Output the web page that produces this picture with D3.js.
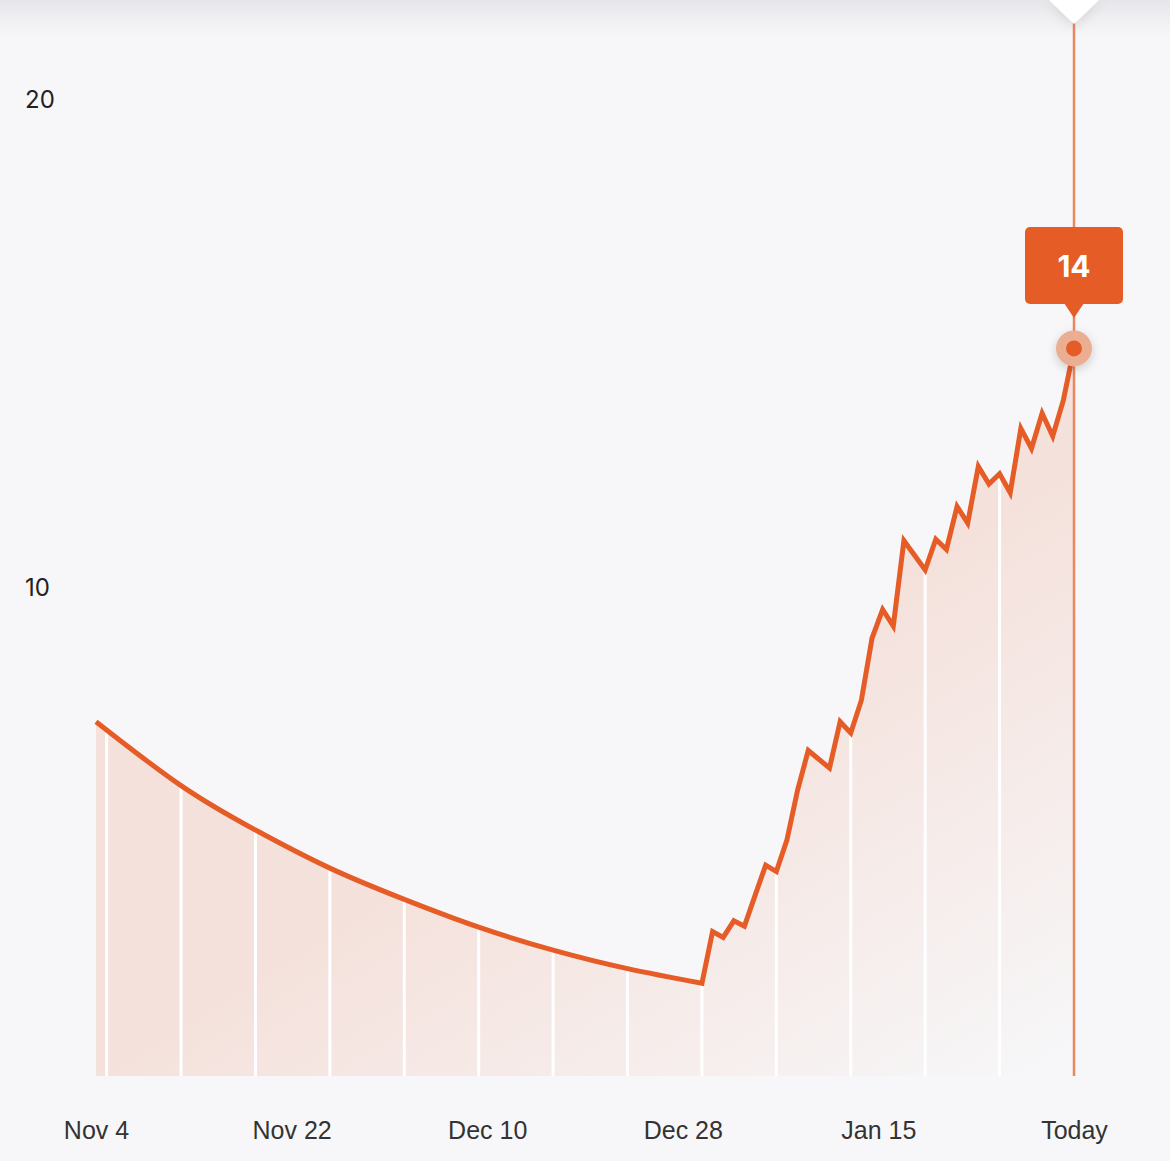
<!DOCTYPE html>
<html>
<head>
<meta charset="utf-8">
<script src="https://cdn.jsdelivr.net/npm/d3@7"></script>
<style>
  html, body { margin: 0; padding: 0; background: #f7f7f9; }
  svg { display: block; }
</style>
</head>
<body>
<svg id="chart" width="1170" height="1161"></svg>
<script>
// ---- data (day index counted from Nov 4) ----
const smoothDays   = [0, 8, 15, 22, 29, 36, 43, 50, 57];
const smoothValues = [7.26, 5.95, 5.04, 4.26, 3.62, 3.05, 2.58, 2.20, 1.90];

const dailyDays   = [57,58,59,60,61,62,63,64,65,66,67,68,69,70,71,72,73,74,75,76,77,78,79,80,81,82,83,84,85,86,87,88,89,90,91,92];
const dailyValues = [1.90,2.96,2.84,3.18,3.07,3.70,4.32,4.19,4.84,5.86,6.67,6.49,6.31,7.26,7.03,7.70,8.97,9.56,9.22,10.97,10.67,10.37,11.00,10.79,11.67,11.33,12.49,12.13,12.34,11.95,13.27,12.86,13.58,13.11,13.85,14.91];

const gridDays   = [1, 8, 15, 22, 29, 36, 43, 50, 57, 64, 71, 78, 85];
const xTickLabels = ["Nov 4", "Nov 22", "Dec 10", "Dec 28", "Jan 15", "Today"];
const yTickValues = [10, 20];
const dayDomain = [0, 92];

// ---- layout ----
const svg = d3.select("#chart");
const W = 1170, H = 1161;
const orange = "#E65C27";

const x = d3.scaleLinear().domain(dayDomain).range([96, 1074]);
const y = d3.scaleLinear().domain([0, 20]).range([1076, 100]);

const defs = svg.append("defs");

const hdr = defs.append("linearGradient").attr("id", "hdr").attr("x1", 0).attr("y1", 0).attr("x2", 0).attr("y2", 1);
hdr.append("stop").attr("offset", 0).attr("stop-color", "#e6e6ea");
hdr.append("stop").attr("offset", 0.4).attr("stop-color", "#eeeef1");
hdr.append("stop").attr("offset", 1).attr("stop-color", "#f7f7f9");

const ag = defs.append("linearGradient").attr("id", "areaGrad")
  .attr("gradientUnits", "userSpaceOnUse")
  .attr("x1", 1060).attr("y1", 480).attr("x2", 1327).attr("y2", 910);
ag.append("stop").attr("offset", 0).attr("stop-color", orange).attr("stop-opacity", 0.14);
ag.append("stop").attr("offset", 1).attr("stop-color", orange).attr("stop-opacity", 0.0);

const sh = defs.append("filter").attr("id", "shadow").attr("x", "-100%").attr("y", "-100%").attr("width", "300%").attr("height", "300%");
sh.append("feDropShadow").attr("dx", 0).attr("dy", 3).attr("stdDeviation", 5).attr("flood-color", "#000").attr("flood-opacity", 0.18);

const sh2 = defs.append("filter").attr("id", "shadow2").attr("x", "-100%").attr("y", "-100%").attr("width", "300%").attr("height", "300%");
sh2.append("feDropShadow").attr("dx", 0).attr("dy", 2).attr("stdDeviation", 6).attr("flood-color", "#000").attr("flood-opacity", 0.12);

// background
svg.append("rect").attr("width", W).attr("height", H).attr("fill", "#f7f7f9");
svg.append("rect").attr("width", W).attr("height", 38).attr("fill", "url(#hdr)");

// ---- line path (smooth part + daily linear part) ----
const smoothPts = smoothDays.map((d, i) => [d, smoothValues[i]]);
const dailyPts  = dailyDays.map((d, i) => [d, dailyValues[i]]);

const smoothLine = d3.line().x(d => x(d[0])).y(d => y(d[1])).curve(d3.curveNatural);
const linearLine = d3.line().x(d => x(d[0])).y(d => y(d[1])).curve(d3.curveLinear);

const linePath = smoothLine(smoothPts) + linearLine(dailyPts).replace(/^M/, "L");
const lastDay = dailyDays[dailyDays.length - 1];
const lastVal = dailyValues[dailyValues.length - 1];
const areaPath = linePath + `L${x(lastDay)},${y(0)}L${x(smoothDays[0])},${y(0)}Z`;

defs.append("clipPath").attr("id", "areaClip").append("path").attr("d", areaPath);

svg.append("path").attr("d", areaPath).attr("fill", "url(#areaGrad)");

// white separators inside area
svg.append("g").attr("clip-path", "url(#areaClip)")
  .selectAll("line").data(gridDays).join("line")
  .attr("x1", d => x(d)).attr("x2", d => x(d))
  .attr("y1", y(20)).attr("y2", y(0))
  .attr("stroke", "#ffffff").attr("stroke-width", 3);

// vertical marker line
svg.append("line")
  .attr("x1", x(lastDay)).attr("x2", x(lastDay))
  .attr("y1", 20).attr("y2", y(0))
  .attr("stroke", "#E9875F").attr("stroke-width", 2.5);

// main line
svg.append("path").attr("d", linePath)
  .attr("fill", "none").attr("stroke", orange).attr("stroke-width", 5)
  .attr("stroke-linejoin", "miter").attr("stroke-miterlimit", 4);

// end point
const cx = x(lastDay), cy = y(lastVal);
svg.append("circle").attr("cx", cx).attr("cy", cy).attr("r", 18)
  .attr("fill", "#ECAE93").attr("filter", "url(#shadow)");
svg.append("circle").attr("cx", cx).attr("cy", cy).attr("r", 8).attr("fill", orange);

// tooltip
const tip = svg.append("g");
tip.append("rect").attr("x", cx - 49).attr("y", 227).attr("width", 98).attr("height", 77)
  .attr("rx", 5).attr("fill", orange);
tip.append("path").attr("d", `M${cx - 10},303L${cx + 10},303L${cx},318Z`).attr("fill", orange);
tip.append("text").attr("x", cx).attr("y", 266)
  .attr("text-anchor", "middle").attr("dominant-baseline", "central")
  .attr("font-family", "Inter, 'Noto Sans', sans-serif").attr("font-weight", 700)
  .attr("font-size", 30).attr("fill", "#fff")
  .text(Math.floor(lastVal));

// top triangle marker
svg.append("path").attr("d", `M${cx - 25},0L${cx + 25},0L${cx},24Z`)
  .attr("fill", "#ffffff").attr("filter", "url(#shadow2)");

// ---- axes ----
const tickDays = d3.range(xTickLabels.length).map(i => dayDomain[0] + i * (dayDomain[1] - dayDomain[0]) / (xTickLabels.length - 1));
const xAxis = d3.axisBottom(x).tickValues(tickDays).tickSize(0).tickPadding(0)
  .tickFormat((d, i) => xTickLabels[i]);
const gx = svg.append("g").attr("transform", "translate(0,1130)").call(xAxis);
gx.select(".domain").remove();
gx.selectAll("text")
  .attr("font-family", "'Liberation Sans', Arial, sans-serif")
  .attr("font-size", 25).attr("fill", "#333").attr("dy", "0.35em").attr("y", 0);

const yAxis = d3.axisLeft(y).tickValues(yTickValues).tickSize(0).tickPadding(0);
const gy = svg.append("g").attr("transform", "translate(25,0)").call(yAxis);
gy.select(".domain").remove();
gy.selectAll("text")
  .attr("text-anchor", "start").attr("x", 0)
  .attr("font-family", "Inter, 'Noto Sans', sans-serif")
  .attr("font-size", 24).attr("fill", "#222");
</script>
</body>
</html>
